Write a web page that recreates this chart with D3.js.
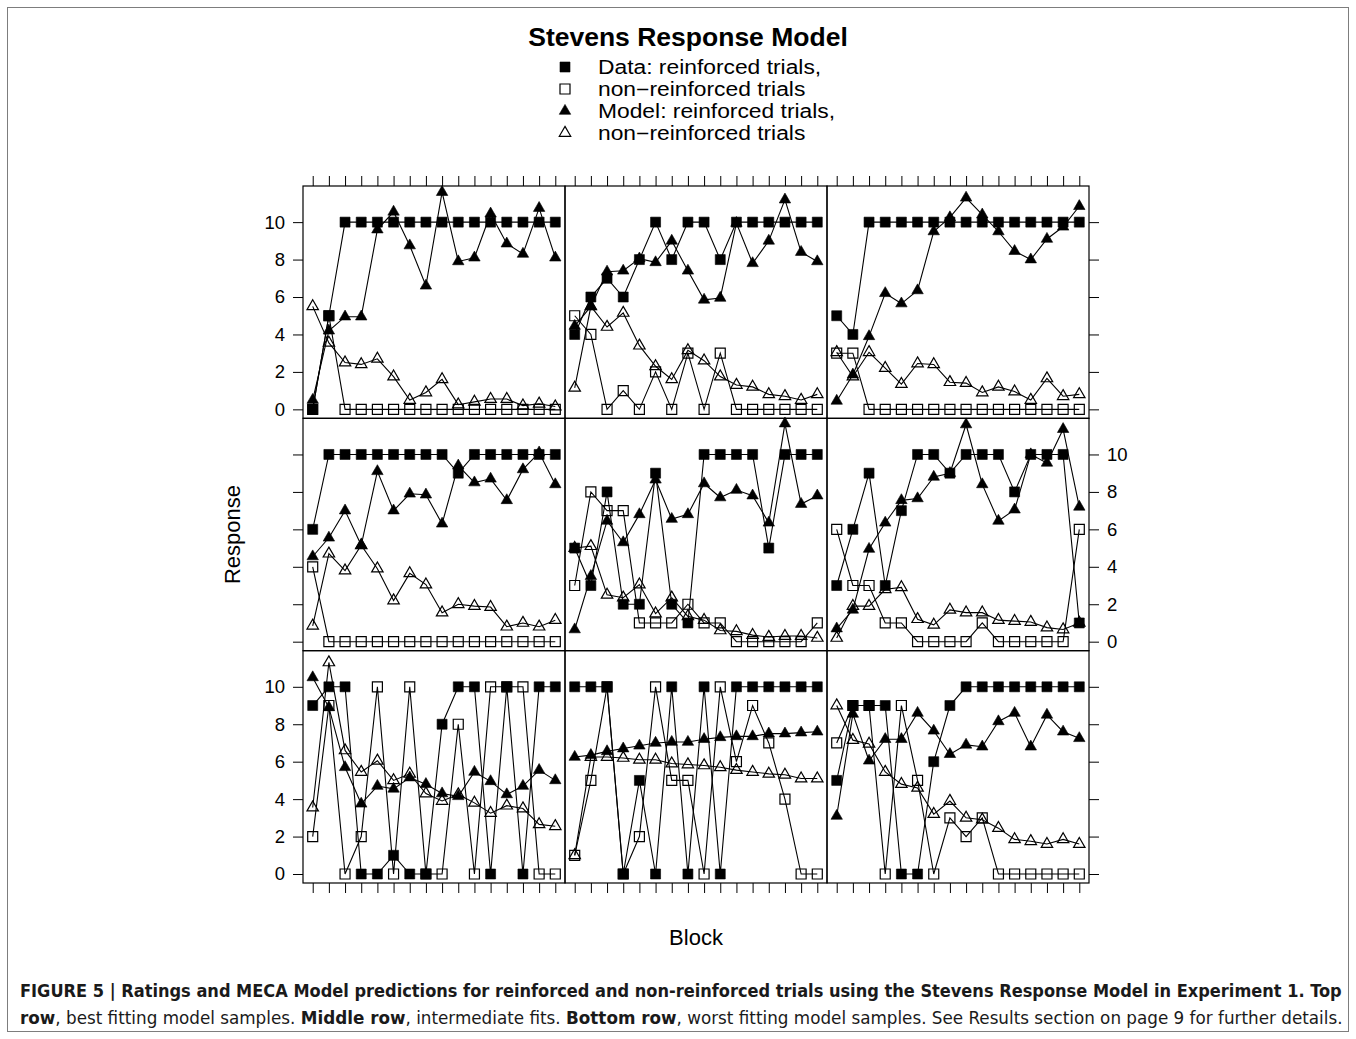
<!DOCTYPE html>
<html>
<head>
<meta charset="utf-8">
<script src="https://cdn.jsdelivr.net/npm/d3@7"></script>
<style>
  body { margin: 0; background: #fff; }
  svg { display: block; }
</style>
</head>
<body>
<svg id="chart" width="1356" height="1039"></svg>
<script>
// Blocks on the x axis and y tick values
const blocks = [1, 2, 3, 4, 5, 6, 7, 8, 9, 10, 11, 12, 13, 14, 15, 16];
const yTicks = [0, 2, 4, 6, 8, 10];

// One row per panel, panels ordered left-to-right, top-to-bottom
// (top row: best fits, middle row: intermediate fits, bottom row: worst fits)
const dataReinforced = [
  [0, 5, 10, 10, 10, 10, 10, 10, 10, 10, 10, 10, 10, 10, 10, 10],
  [4, 6, 7, 6, 8, 10, 8, 10, 10, 8, 10, 10, 10, 10, 10, 10],
  [5, 4, 10, 10, 10, 10, 10, 10, 10, 10, 10, 10, 10, 10, 10, 10],
  [6, 10, 10, 10, 10, 10, 10, 10, 10, 9, 10, 10, 10, 10, 10, 10],
  [5, 3, 8, 2, 2, 9, 2, 1, 10, 10, 10, 10, 5, 10, 10, 10],
  [3, 6, 9, 3, 7, 10, 10, 9, 10, 10, 10, 8, 10, 10, 10, 1],
  [9, 10, 10, 0, 0, 1, 0, 0, 8, 10, 10, 0, 10, 0, 10, 10],
  [10, 10, 10, 0, 5, 0, 10, 0, 10, 0, 10, 10, 10, 10, 10, 10],
  [5, 9, 9, 9, 0, 0, 6, 9, 10, 10, 10, 10, 10, 10, 10, 10]
];
const dataNonReinforced = [
  [0, 5, 0, 0, 0, 0, 0, 0, 0, 0, 0, 0, 0, 0, 0, 0],
  [5, 4, 0, 1, 0, 2, 0, 3, 0, 3, 0, 0, 0, 0, 0, 0],
  [3, 3, 0, 0, 0, 0, 0, 0, 0, 0, 0, 0, 0, 0, 0, 0],
  [4, 0, 0, 0, 0, 0, 0, 0, 0, 0, 0, 0, 0, 0, 0, 0],
  [3, 8, 7, 7, 1, 1, 1, 2, 1, 1, 0, 0, 0, 0, 0, 1],
  [6, 3, 3, 1, 1, 0, 0, 0, 0, 1, 0, 0, 0, 0, 0, 6],
  [2, 9, 0, 2, 10, 0, 10, 0, 0, 8, 0, 10, 10, 10, 0, 0],
  [1, 5, 10, 0, 2, 10, 5, 5, 0, 10, 6, 9, 7, 4, 0, 0],
  [7, 9, 9, 0, 9, 5, 0, 3, 2, 3, 0, 0, 0, 0, 0, 0]
];
const modelReinforced = [
  [0.5, 4.2, 4.95, 4.95, 9.6, 10.55, 8.75, 6.6, 11.6, 7.9, 8.1, 10.45, 8.85, 8.3, 10.75, 8.1],
  [4.45, 5.5, 7.35, 7.4, 8.05, 7.85, 9.0, 7.4, 5.85, 5.95, 9.95, 7.8, 9.0, 11.2, 8.4, 7.9],
  [0.45, 1.85, 3.9, 6.2, 5.65, 6.35, 9.5, 10.25, 11.3, 10.4, 9.5, 8.45, 8.0, 9.1, 9.75, 10.85],
  [4.55, 5.55, 7.0, 5.15, 9.1, 7.0, 7.9, 7.85, 6.3, 9.4, 8.5, 8.7, 7.55, 9.2, 10.1, 8.4],
  [0.65, 3.5, 6.45, 5.3, 6.8, 8.65, 6.55, 6.8, 8.45, 7.7, 8.1, 7.8, 6.35, 11.65, 7.35, 7.8],
  [0.7, 1.7, 4.95, 6.35, 7.55, 7.65, 8.8, 9.0, 11.6, 8.4, 6.45, 7.05, 10.0, 9.55, 11.35, 7.2],
  [10.5, 8.9, 5.7, 3.75, 4.7, 4.55, 5.15, 4.8, 4.3, 4.15, 5.45, 4.95, 4.25, 4.7, 5.55, 5.0],
  [6.25, 6.35, 6.55, 6.7, 6.85, 7.0, 7.05, 7.05, 7.2, 7.3, 7.35, 7.35, 7.5, 7.5, 7.55, 7.6],
  [3.1, 8.55, 6.05, 7.2, 7.2, 8.6, 7.65, 6.4, 6.9, 6.8, 8.15, 8.6, 6.8, 8.5, 7.6, 7.25]
];
const modelNonReinforced = [
  [5.5, 3.55, 2.5, 2.4, 2.7, 1.75, 0.5, 0.9, 1.6, 0.25, 0.4, 0.55, 0.55, 0.2, 0.3, 0.15],
  [1.15, 5.5, 4.4, 5.15, 3.4, 2.3, 1.6, 3.15, 2.6, 1.75, 1.3, 1.2, 0.8, 0.7, 0.5, 0.8],
  [3.05, 1.75, 3.05, 2.2, 1.35, 2.45, 2.4, 1.45, 1.4, 0.9, 1.2, 0.95, 0.5, 1.65, 0.7, 0.8],
  [0.85, 4.7, 3.8, 5.15, 3.9, 2.2, 3.65, 3.05, 1.55, 2.0, 1.9, 1.85, 0.8, 1.0, 0.8, 1.15],
  [5.0, 5.1, 2.5, 2.35, 3.05, 1.5, 2.35, 1.35, 1.15, 0.6, 0.55, 0.35, 0.25, 0.3, 0.3, 0.2],
  [0.2, 1.9, 1.9, 2.8, 2.9, 1.2, 0.9, 1.7, 1.55, 1.55, 1.15, 1.1, 1.05, 0.75, 0.65, 1.0],
  [3.55, 11.3, 6.6, 5.45, 6.05, 5.0, 5.35, 4.3, 3.9, 4.25, 3.8, 3.25, 3.65, 3.5, 2.65, 2.55],
  [1.0, 6.25, 6.25, 6.2, 6.1, 6.1, 5.9, 5.85, 5.8, 5.7, 5.55, 5.45, 5.35, 5.3, 5.1, 5.1],
  [9.0, 7.15, 6.95, 5.45, 4.8, 4.6, 3.2, 3.9, 3.0, 2.9, 2.45, 1.85, 1.75, 1.6, 1.85, 1.6]
];

// Legend and text
const titleText = "Stevens Response Model";
const legendLabels = ["Data: reinforced trials,", "non\u2212reinforced trials", "Model: reinforced trials,", "non\u2212reinforced trials"];
const xLabel = "Block";
const yLabel = "Response";
const captionLines = [
  [["FIGURE 5 | Ratings and MECA Model predictions for reinforced and non-reinforced trials using the Stevens Response Model in Experiment 1. Top", true]],
  [["row", true], [", best fitting model samples. ", false], ["Middle row", true], [", intermediate fits. ", false],
   ["Bottom row", true], [", worst fitting model samples. See Results section on page 9 for further details.", false]]
];

// ---------------------------------------------------------------------
const W = 1356, H = 1039;
const FONT = "'Liberation Sans', Arial, Helvetica, sans-serif";
const svg = d3.select("#chart");

svg.append("rect").attr("width", W).attr("height", H).attr("fill", "#fff");
svg.append("rect")
  .attr("x", 7.5).attr("y", 7.5).attr("width", 1341).attr("height", 1024)
  .attr("fill", "none").attr("stroke", "#7d7d7d").attr("stroke-width", 1);

// Marker shapes (square / triangle, centred on the point)
function markerPath(shape) {
  if (shape === "square") {
    const s = 5;
    return `M${-s},${-s}H${s}V${s}H${-s}Z`;
  }
  const r = 6.6, hx = r * Math.sqrt(3) / 2;
  return `M0,${-r}L${hx},${r / 2}L${-hx},${r / 2}Z`;
}

const series = [
  { values: dataNonReinforced, shape: "square", filled: false },
  { values: dataReinforced, shape: "square", filled: true },
  { values: modelNonReinforced, shape: "triangle", filled: false },
  { values: modelReinforced, shape: "triangle", filled: true }
];
const legendOrder = [
  { shape: "square", filled: true },
  { shape: "square", filled: false },
  { shape: "triangle", filled: true },
  { shape: "triangle", filled: false }
];

// Panel grid
const gridL = 303, gridR = 1089, gridT = 186, gridB = 883;
const pw = (gridR - gridL) / 3, ph = (gridB - gridT) / 3;
const xDomain = [0.4, 16.6], yDomain = [-0.48, 11.93];

function styleAxis(g, showLabels) {
  g.select(".domain").remove();
  g.selectAll(".tick line").attr("stroke", "#000").attr("stroke-width", 1);
  g.selectAll(".tick text")
    .attr("font-family", FONT).attr("font-size", 18.5).attr("fill", "#000");
  if (!showLabels) g.selectAll(".tick text").remove();
}

for (let i = 0; i < 9; i++) {
  const row = Math.floor(i / 3), col = i % 3;
  const x0 = gridL + col * pw, y0 = gridT + row * ph;
  const x = d3.scaleLinear().domain(xDomain).range([x0, x0 + pw]);
  const y = d3.scaleLinear().domain(yDomain).range([y0 + ph, y0]);
  const g = svg.append("g").attr("class", "panel");

  series.forEach(s => {
    const vals = s.values[i];
    const line = d3.line().x((d, k) => x(blocks[k])).y(d => y(d));
    g.append("path")
      .attr("d", line(vals))
      .attr("fill", "none").attr("stroke", "#000").attr("stroke-width", 1.1);
    g.selectAll(null).data(vals).join("path")
      .attr("transform", (d, k) => `translate(${x(blocks[k])},${y(d)})`)
      .attr("d", markerPath(s.shape))
      .attr("fill", s.filled ? "#000" : "none")
      .attr("stroke", "#000")
      .attr("stroke-width", s.filled ? 0.6 : 1.2)
      .attr("stroke-linejoin", "miter");
  });

  g.append("rect")
    .attr("x", x0).attr("y", y0).attr("width", pw).attr("height", ph)
    .attr("fill", "none").attr("stroke", "#000").attr("stroke-width", 1.2);

  // x ticks along the outer top and bottom edges
  if (row === 0) {
    const ax = svg.append("g").attr("transform", `translate(0,${gridT})`)
      .call(d3.axisTop(x).tickValues(blocks).tickFormat("").tickSize(10).tickSizeOuter(0));
    styleAxis(ax, false);
  }
  if (row === 2) {
    const ax = svg.append("g").attr("transform", `translate(0,${gridB})`)
      .call(d3.axisBottom(x).tickValues(blocks).tickFormat("").tickSize(10).tickSizeOuter(0));
    styleAxis(ax, false);
  }
  // y ticks: labels alternate between left (rows 1, 3) and right (row 2)
  if (col === 0) {
    const ax = svg.append("g").attr("transform", `translate(${gridL},0)`)
      .call(d3.axisLeft(y).tickValues(yTicks).tickSize(10).tickPadding(8).tickSizeOuter(0));
    styleAxis(ax, row !== 1);
  }
  if (col === 2) {
    const ax = svg.append("g").attr("transform", `translate(${gridR},0)`)
      .call(d3.axisRight(y).tickValues(yTicks).tickSize(10).tickPadding(8).tickSizeOuter(0));
    styleAxis(ax, row === 1);
  }
}

// Axis titles
svg.append("text")
  .attr("x", (gridL + gridR) / 2).attr("y", 937).attr("dy", "0.35em")
  .attr("text-anchor", "middle").attr("font-family", FONT).attr("font-size", 22)
  .text(xLabel);
svg.append("text")
  .attr("transform", `translate(232,${(gridT + gridB) / 2}) rotate(-90)`)
  .attr("dy", "0.35em")
  .attr("text-anchor", "middle").attr("font-family", FONT).attr("font-size", 22)
  .text(yLabel);

// Title
svg.append("text")
  .attr("x", 688).attr("y", 46)
  .attr("text-anchor", "middle").attr("font-family", FONT)
  .attr("font-size", 26.5).attr("font-weight", "bold")
  .text(titleText);

// Legend: symbols and labels, rows spaced so the label lines do not collide
const legendY = [67, 89, 111, 133];
const legendFont = 19.5, legendStretch = 1.17, legendTextX = 598;
const lg = svg.append("g");
legendOrder.forEach((m, k) => {
  lg.append("path")
    .attr("transform", `translate(565,${legendY[k]})`)
    .attr("d", markerPath(m.shape))
    .attr("fill", m.filled ? "#000" : "none")
    .attr("stroke", "#000").attr("stroke-width", m.filled ? 0.6 : 1.2);
  lg.append("text")
    .attr("transform", `translate(${legendTextX},${legendY[k]}) scale(${legendStretch},1)`)
    .attr("dy", "0.35em")
    .attr("font-family", FONT).attr("font-size", legendFont)
    .text(legendLabels[k]);
});

// Caption, set in a condensed face and fitted to the text block width
const capX = 20, capWidth = 1323, capBase = [997, 1024];
captionLines.forEach((parts, li) => {
  const t = svg.append("text")
    .attr("x", capX).attr("y", capBase[li])
    .attr("font-family", "'Liberation Sans Narrow', 'DejaVu Sans Condensed', 'Liberation Sans', Arial, sans-serif")
    .attr("font-stretch", "condensed")
    .attr("font-size", 18).attr("fill", "#1a1a1a");
  parts.forEach(([txt, bold]) => {
    t.append("tspan").attr("font-weight", bold ? "bold" : "normal").text(txt);
  });
  const len = t.node().getComputedTextLength();
  const sx = capWidth / len;
  t.attr("transform", `translate(${capX},0) scale(${sx},1) translate(${-capX},0)`);
});
</script>
</body>
</html>
